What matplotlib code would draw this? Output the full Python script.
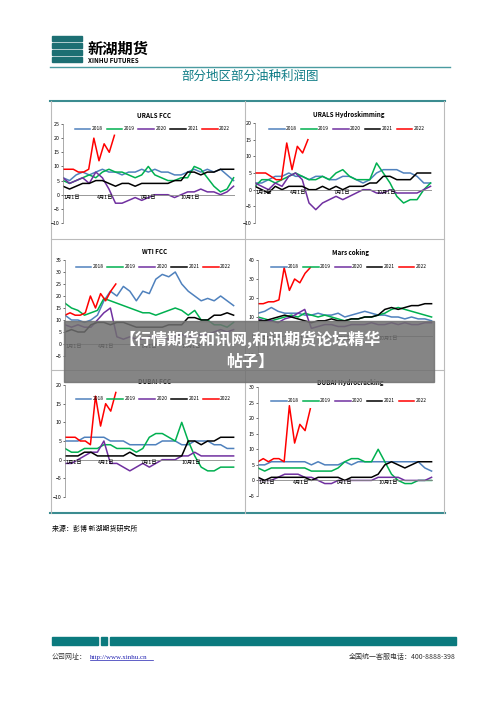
import numpy as np
import matplotlib
matplotlib.use("Agg")
import matplotlib.pyplot as plt
from matplotlib.patches import Rectangle

plt.rcParams['font.family'] = ['Noto Sans CJK SC', 'DejaVu Sans']

years = ['2018', '2019', '2020', '2021', '2022']
colors = ['#4F81BD', '#00B050', '#7030A0', '#000000', '#FF0000']
month_labels = ['1月1日', '4月1日', '7月1日', '10月1日']
month_days = [0, 90, 181, 273]

urals_fcc = {
 '2018': [6,5,7,8,7,8,9,8,8,7,8,8,9,8,9,8,8,7,7,8,9,8,9,8,9,7,5],
 '2019': [5,4,5,6,7,6,8,9,8,8,7,6,7,10,7,6,5,5,6,6,10,9,6,3,1,2,6],
 '2020': [6,4,5,6,4,8,6,2,-3,-3,-2,-1,-2,-1,0,0,0,-1,0,1,1,2,1,1,0,1,3],
 '2021': [3,2,3,4,4,5,5,4,3,4,4,3,4,4,4,4,4,5,5,8,8,7,8,8,9,9,9],
 '2022': [9,9,9,8,8,9,20,12,18,15,21]}
urals_hydro = {
 '2018': [2,2,3,4,4,5,4,4,3,4,4,3,3,4,4,3,2,3,5,6,6,6,5,5,4,2,2],
 '2019': [1,3,3,2,3,4,5,4,3,3,4,3,5,6,4,3,3,3,8,5,2,-2,-4,-3,-3,0,2],
 '2020': [2,1,0,2,1,4,5,3,-4,-6,-4,-3,-2,-3,-2,-1,0,0,-1,-1,0,-1,-1,-1,-1,0,1],
 '2021': [1,0,-1,1,0,1,1,1,0,0,1,0,1,0,1,1,1,2,2,4,4,3,3,3,5,5,5],
 '2022': [5,5,5,4,3,3,14,6,13,11,15]}
wti_fcc = {
 '2018': [12,10,10,9,10,12,18,22,20,24,22,18,22,21,27,29,28,30,25,22,20,18,19,18,20,18,16],
 '2019': [17,15,14,12,13,14,19,18,17,16,15,14,13,13,12,13,14,15,14,12,14,10,10,8,8,7,9],
 '2020': [8,7,8,7,7,10,13,15,3,2,3,2,2,3,3,3,2,3,4,3,3,4,4,5,6,5,6],
 '2021': [5,6,5,5,8,9,9,8,9,9,8,7,7,7,7,7,8,8,8,11,11,10,10,12,12,13,12],
 '2022': [12,13,12,12,13,20,15,21,18,22,25]}
mars_coking = {
 '2018': [12,13,15,13,12,12,12,11,11,12,11,11,12,10,11,12,13,12,11,11,10,10,9,10,9,9,8],
 '2019': [10,9,8,9,10,11,10,12,11,10,11,10,9,8,9,9,10,10,11,12,14,15,14,13,12,11,10],
 '2020': [9,8,8,7,9,10,12,14,4,5,6,6,5,5,6,6,6,7,6,6,7,6,7,6,6,7,7],
 '2021': [8,8,9,10,11,10,9,8,7,8,8,9,8,8,9,9,10,10,11,14,15,14,15,16,16,17,17],
 '2022': [17,17,18,18,19,36,24,30,28,33,36]}
dubai_fcc = {
 '2018': [5,5,5,6,6,6,6,5,5,5,4,4,4,4,4,5,5,5,4,4,5,5,5,4,4,3,3],
 '2019': [3,2,2,3,3,3,4,4,3,3,3,2,3,6,7,7,6,5,10,5,1,-2,-3,-3,-2,-2,-2],
 '2020': [-1,-1,0,1,2,2,5,-1,-1,-2,-3,-2,-1,-2,-1,0,0,0,1,1,2,1,1,1,1,1,1],
 '2021': [1,1,1,2,2,1,1,1,1,1,2,1,1,1,1,1,1,1,1,5,5,4,5,5,6,6,6],
 '2022': [6,6,6,5,5,4,17,9,15,13,18]}
dubai_hc = {
 '2018': [5,5,6,6,6,6,6,6,5,6,5,5,5,6,5,6,6,6,6,6,6,6,6,6,6,4,3],
 '2019': [4,3,4,4,4,4,4,4,3,3,3,3,4,6,7,7,6,6,10,6,2,0,-1,-1,0,0,0],
 '2020': [0,0,0,1,2,2,2,1,1,0,-1,-1,0,0,0,0,0,0,1,1,1,1,0,0,0,0,1],
 '2021': [1,0,1,1,1,1,1,1,0,1,1,1,1,0,1,1,1,1,2,5,6,5,4,5,6,6,6],
 '2022': [6,7,6,7,7,6,24,12,18,16,23]}

W, H = 500, 703
fig = plt.figure(figsize=(5, 7.03), dpi=100)
bg = fig.add_axes([0, 0, 1, 1])
bg.set_xlim(0, W); bg.set_ylim(H, 0); bg.axis('off')
teal = '#0E7C86'

# header
for i, yy in enumerate([36, 43, 50, 57]):
    bg.add_patch(Rectangle((52, yy), 30, 4.5, color='#1C6F73'))
bg.text(88, 49, '新湖期货', fontsize=11, fontweight='bold', va='center')
bg.text(88, 60.5, 'XINHU FUTURES', fontsize=4.5, fontweight='bold', va='center')
bg.plot([50, 450], [67, 67], color='#4A9BA0', lw=1)
bg.text(250, 76, '部分地区部分油种利润图', fontsize=9, color=teal, ha='center', va='center')

# panel frame
bg.plot([50, 445], [101, 101], color='#3B8C90', lw=1.5)
bg.plot([50, 445], [513, 513], color='#3B8C90', lw=1.5)
for x in [51, 245, 444]:
    bg.plot([x, x], [101, 513], color='#BBBBBB', lw=0.8)
for y in [239, 370]:
    bg.plot([51, 444], [y, y], color='#BBBBBB', lw=0.8)

# footer
bg.text(52, 529, '来源：彭博 新湖期货研究所', fontsize=5, va='center')
bg.add_patch(Rectangle((52, 637), 46, 8, color='#0B7A7E'))
bg.add_patch(Rectangle((101, 637), 6, 8, color='#0B7A7E'))
bg.add_patch(Rectangle((110, 637), 346, 8, color='#0B7A7E'))
bg.text(52, 657, '公司网址：', fontsize=5, va='center', color='#333333')
bg.text(90, 657, 'http://www.xinhu.cn', fontsize=5, va='center', color='#1F1FB0',
        family='Liberation Serif')
bg.plot([90, 153], [659.5, 659.5], color='#1F1FB0', lw=0.5)
bg.text(456, 657, '全国统一客服电话：400-8888-398', fontsize=5, va='center', ha='right', color='#333333')

def panel(x0, x1, ytop, ybot, data, ylim, step, title, tpos, lpos):
    ax = fig.add_axes([x0 / W, 1 - ybot / H, (x1 - x0) / W, (ybot - ytop) / H])
    for yr, c in zip(years, colors):
        v = data[yr]
        if yr == '2022':
            x = np.linspace(0, 110, len(v))
        else:
            x = np.linspace(0, 365, len(v))
        ax.plot(x, v, color=c, lw=1.1, label=yr)
    ax.set_xlim(0, 368); ax.set_ylim(*ylim)
    ax.set_yticks(np.arange(ylim[0], ylim[1] + 0.1, step))
    ax.tick_params(axis='y', labelsize=3.8, length=1.5, width=0.4, pad=1)
    ax.set_xticks([])
    for s in ['top', 'right', 'bottom']:
        ax.spines[s].set_visible(False)
    ax.spines['left'].set_linewidth(0.5); ax.spines['left'].set_color('#888888')
    ax.axhline(0, color='#888888', lw=0.6)
    for d, m in zip(month_days, month_labels):
        ax.text(d, 0, m, fontsize=3.8, ha='left' if d == 0 else 'center', va='top',
                transform=ax.transData)
        ax.plot([d, d], [0, -(ylim[1]-ylim[0]) * 0.015], color='#888888', lw=0.4)
    ax.patch.set_alpha(0)
    bg.text((x0 + x1) / 2 + 5, tpos, title, fontsize=4.5, fontweight='bold', ha='center', va='center')
    ax.legend(loc='center', bbox_to_anchor=(0.52, 1 - (lpos - ytop) / (ybot - ytop)),
              ncol=5, fontsize=3.5, frameon=False, handlelength=3.2, columnspacing=0.8,
              handletextpad=0.3)

panel(63, 235, 124, 223, urals_fcc, (-10, 25), 5, 'URALS FCC', 115, 129)
panel(255, 432, 123, 223, urals_hydro, (-10, 20), 5, 'URALS Hydroskimming', 115, 129)
panel(65, 235, 260, 356, wti_fcc, (-5, 35), 5, 'WTI FCC', 252, 267)
panel(258, 433, 260, 355, mars_coking, (-10, 40), 10, 'Mars coking', 252, 267)
panel(65, 235, 385, 497, dubai_fcc, (-10, 20), 5, 'DUBAI FCC', 381, 399)
panel(258, 433, 387, 496, dubai_hc, (-5, 30), 5, 'DUBAI Hydrocracking', 382, 401)

# overlay banner
ov = fig.add_axes([0, 0, 1, 1], zorder=20)
ov.set_xlim(0, W); ov.set_ylim(H, 0); ov.axis('off'); ov.patch.set_alpha(0)
ov.add_patch(Rectangle((64, 321), 370, 61, color='#707070', alpha=0.85))
ov.text(250, 339, '【行情期货和讯网,和讯期货论坛精华', fontsize=11.5, fontweight='bold',
        color='white', ha='center', va='center')
ov.text(250, 362, '帖子】', fontsize=11.5, fontweight='bold', color='white', ha='center', va='center')

fig.savefig('out.png', dpi=100)
